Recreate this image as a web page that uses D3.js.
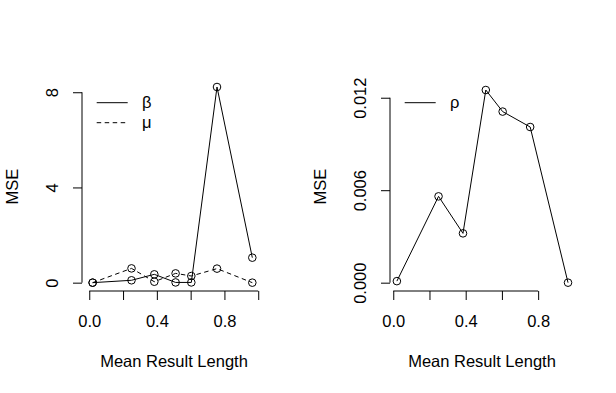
<!DOCTYPE html>
<html>
<head>
<meta charset="utf-8">
<script src="https://cdn.jsdelivr.net/npm/d3@7"></script>
<style>
  body { margin: 0; background: #fff; }
  svg text { font-family: "Liberation Sans", Arial, sans-serif; font-size: 16.5px; fill: #000; }
</style>
</head>
<body>
<svg id="chart" width="616" height="393"></svg>
<script>
// data
var resultLength = [0.02, 0.25, 0.385, 0.511, 0.604, 0.756, 0.965];
var betaMSE = [0, 0.1, 0.35, 0.01, 0.01, 8.22, 1.05];
var muMSE = [0, 0.6, 0.04, 0.39, 0.28, 0.59, 0];
var rhoMSE = [0.0001, 0.0056, 0.0032, 0.0125, 0.0111, 0.0101, 0];

var leftXTicks = [0, 0.2, 0.4, 0.6, 0.8, 1.0];
var rightXTicks = [0, 0.2, 0.4, 0.6, 0.8];
var xLabelTicks = [0, 0.4, 0.8];
var leftYTicks = [0, 4, 8];
var rightYTicks = [0, 0.006, 0.012];

var svg = d3.select("#chart");

function panel (opt) {
  var x = d3.scaleLinear().domain(opt.xDomain).range([opt.left, opt.left + 184]);
  var y = d3.scaleLinear().domain(opt.yDomain).range([291, 82]);
  var g = svg.append("g");

  // x axis (R style: line only from first to last tick)
  var gx = g.append("g").attr("transform", "translate(0,291)")
    .call(d3.axisBottom(x).tickValues(opt.xTicks).tickSize(9).tickSizeOuter(0).tickPadding(22)
      .tickFormat(d => xLabelTicks.some(v => Math.abs(v - d) < 1e-9) ? d3.format(".1f")(d) : ""));
  gx.select(".domain").remove();
  gx.append("line")
    .attr("x1", x(opt.xTicks[0])).attr("x2", x(opt.xTicks[opt.xTicks.length - 1]))
    .attr("stroke", "#000");
  gx.selectAll("text").attr("font-size", null).attr("font-family", null).attr("dy", 0).attr("y", 35.5);

  // y axis, rotated labels
  var gy = g.append("g").attr("transform", "translate(" + opt.left + ",0)")
    .call(d3.axisLeft(y).tickValues(opt.yTicks).tickSize(9).tickSizeOuter(0).tickFormat(opt.yFormat));
  gy.select(".domain").remove();
  gy.append("line")
    .attr("y1", y(opt.yTicks[0])).attr("y2", y(opt.yTicks[opt.yTicks.length - 1]))
    .attr("stroke", "#000");
  gy.selectAll("text")
    .attr("font-size", null).attr("font-family", null)
    .attr("transform", "rotate(-90)")
    .attr("x", 0).attr("y", -24).attr("dy", 0)
    .attr("text-anchor", "middle");
  g.selectAll(".tick line").attr("stroke", "#000");

  // axis titles
  g.append("text").attr("x", opt.left + 92).attr("y", 367).attr("text-anchor", "middle").text("Mean Result Length");
  g.append("text").attr("transform", "translate(" + (opt.left - 64) + "," + 186.5 + ") rotate(-90)")
    .attr("text-anchor", "middle").text("MSE");

  // series
  opt.series.forEach(s => {
    var pts = resultLength.map((d, i) => [d, s.values[i]]);
    g.append("path").datum(pts)
      .attr("d", d3.line().x(d => x(d[0])).y(d => y(d[1])))
      .attr("fill", "none").attr("stroke", "#000").attr("stroke-width", 1)
      .attr("stroke-dasharray", s.dash);
    g.selectAll(null).data(pts).enter().append("circle")
      .attr("cx", d => x(d[0])).attr("cy", d => y(d[1])).attr("r", 3.8)
      .attr("fill", "none").attr("stroke", "#000").attr("stroke-width", 1);
  });

  // legend (no box)
  opt.series.forEach((s, i) => {
    var ly = 102.7 + 20 * i;
    g.append("line").attr("x1", opt.left + 14.7).attr("x2", opt.left + 45.7)
      .attr("y1", ly).attr("y2", ly)
      .attr("stroke", "#000").attr("stroke-dasharray", s.dash);
    g.append("text").attr("x", opt.left + 60).attr("y", ly + 5).text(s.name);
  });
}

panel({
  left: 82,
  xDomain: [-0.043, 1.046],
  yDomain: [-0.35, 8.43],
  xTicks: leftXTicks,
  yTicks: leftYTicks,
  yFormat: d3.format("d"),
  series: [
    { name: "β", values: betaMSE, dash: null },
    { name: "μ", values: muMSE, dash: "4.5,3.5" }
  ]
});

panel({
  left: 390,
  xDomain: [-0.018, 0.998],
  yDomain: [-0.00054, 0.01302],
  xTicks: rightXTicks,
  yTicks: rightYTicks,
  yFormat: d3.format(".3f"),
  series: [
    { name: "ρ", values: rhoMSE, dash: null }
  ]
});
</script>
</body>
</html>
